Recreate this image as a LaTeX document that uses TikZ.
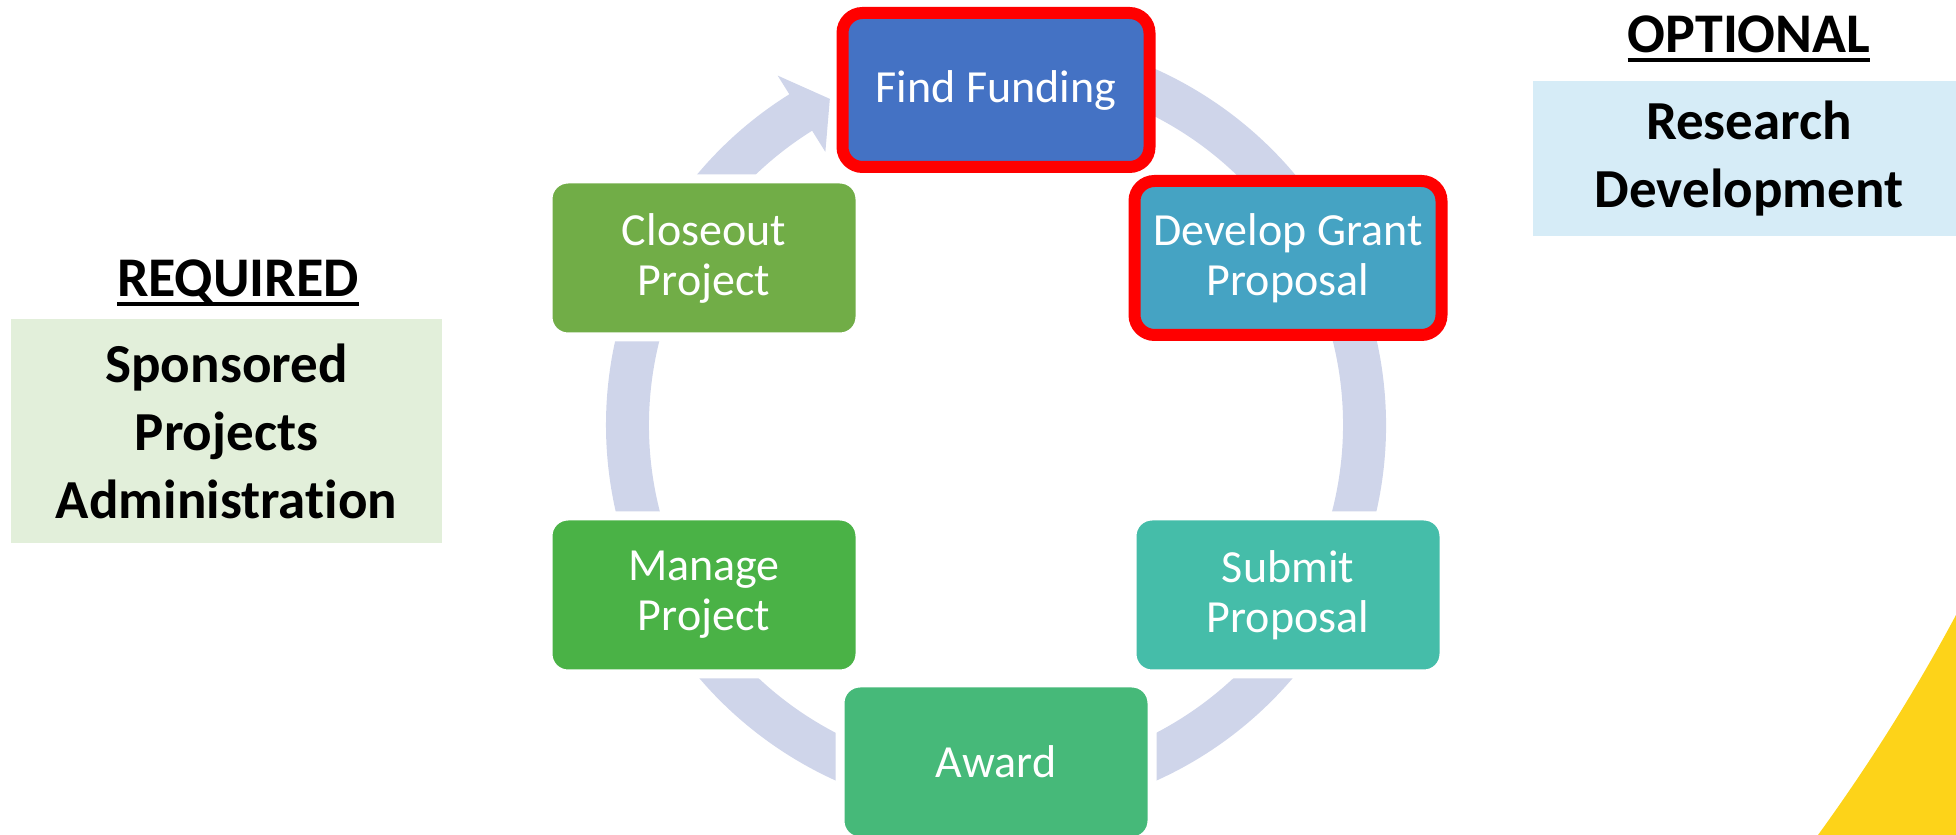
\documentclass[tikz,border=0pt]{standalone}
\usepackage{fontspec}
\setmainfont{Carlito}[Ligatures=NoCommon]
\usetikzlibrary{positioning, calc}

\newcommand{\hdline}[1]{\setbox0\hbox{#1}\rlap{\rule[-4.3pt]{\wd0}{1.7pt}}\box0}

\definecolor{ringgray}{HTML}{CFD5EA}
\definecolor{fundblue}{HTML}{4472C4}
\definecolor{devblue}{HTML}{45A3C3}
\definecolor{submitgreen}{HTML}{45BDA9}
\definecolor{awardgreen}{HTML}{46B979}
\definecolor{managegreen}{HTML}{4AB246}
\definecolor{closegreen}{HTML}{71AD47}
\definecolor{reqgreen}{HTML}{E2EFDA}
\definecolor{optblue}{HTML}{D6ECF7}
\definecolor{sunyellow}{HTML}{FDD319}

\begin{document}
\begin{tikzpicture}[x=0.5pt, y=0.5pt,
    stage/.style={rectangle, rounded corners=10pt, draw=white, line width=4.5pt, minimum width=156pt, minimum height=79pt, inner sep=0pt, text=white, align=center, font=\fontsize{23}{25}\selectfont},
    picked/.style={stage, draw=red, line width=6pt, minimum width=153.5pt, minimum height=77pt},
    panel/.style={rectangle, inner sep=0pt, align=center, font=\bfseries\fontsize{27.5}{34}\selectfont},
    head/.style={inner sep=0pt, font=\bfseries\fontsize{28}{32}\selectfont}]
      \useasboundingbox (0, 0) rectangle (1956, 835);

      % circular arrow behind the stages
      \begin{scope}[shift={(996, 410)}]
        \fill[ringgray] (100:390) arc[start angle=100, end angle=-238, radius=390] -- (122:412) -- (117:366) -- (122:322) -- (122:347) arc[start angle=-238, end angle=100, radius=347] -- cycle;
      \end{scope}

      \node[picked, fill=fundblue] (fund) at (996, 745) {Find Funding};
      \node[picked, fill=devblue] (develop) at (1288, 577) {Develop Grant\\Proposal};
      \node[stage, fill=submitgreen] (submit) at (1288, 240) {Submit\\Proposal};
      \node[stage, fill=awardgreen] (award) at (996, 73) {Award};
      \node[stage, fill=managegreen] (manage) at (704, 240) {Manage\\Project};
      \node[stage, fill=closegreen] (closeout) at (704, 577) {Closeout\\Project};

      \node[head, anchor=base] (req) at (238, 538) {\hdline{REQUIRED}};
      \node[panel, fill=reqgreen, minimum width=215.5pt, minimum height=112pt] (spa) at (226.5, 404) {Sponsored\\Projects\\Administration};

      \node[head, anchor=base] (opt) at (1749, 782) {\hdline{OPTIONAL}};
      \node[panel, fill=optblue, minimum width=216pt, minimum height=77.5pt] (rd) at (1749, 676.5) {Research\\Development};

      \fill[sunyellow] (1818, 0) .. controls (1871, 73) and (1917, 147) .. (1956, 220) -- (1956, 0) -- cycle;

    \end{tikzpicture}
\end{document}
